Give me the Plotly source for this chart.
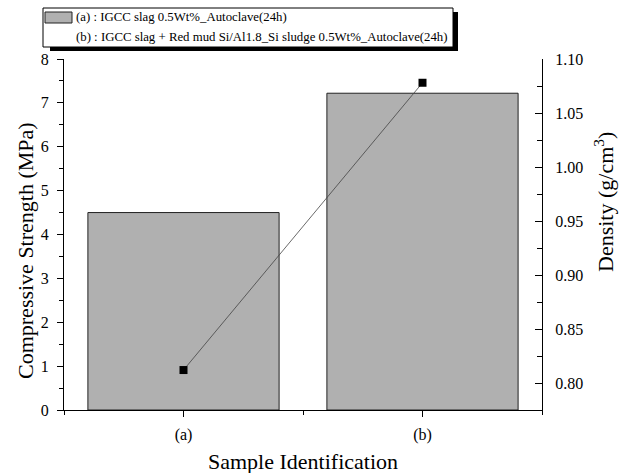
import plotly.graph_objects as go

categories = ["(a)", "(b)"]
x_pos = [0, 1]
strength = [4.5, 7.22]
density = [0.812, 1.078]
legend_labels = [
    "(a) : IGCC slag 0.5Wt%_Autoclave(24h)",
    "(b) : IGCC slag + Red mud Si/Al1.8_Si sludge 0.5Wt%_Autoclave(24h)",
]
left_ticks = [0, 1, 2, 3, 4, 5, 6, 7, 8]
right_ticks = [0.80, 0.85, 0.90, 0.95, 1.00, 1.05, 1.10]

FONT = "Times New Roman, Liberation Serif, serif"
W, H = 627, 473
L, R, T, B = 64, 85, 59, 63
pw, ph = W - L - R, H - T - B

def px(xp):
    return (xp - L) / pw

def py(yp):
    return (H - B - yp) / ph

fig = go.Figure()
fig.add_trace(go.Bar(
    x=x_pos, y=strength, width=0.8,
    marker=dict(color="#b0b0b0", line=dict(color="#222222", width=1)),
    showlegend=False, yaxis="y",
))
fig.add_trace(go.Scatter(
    x=x_pos, y=density, mode="lines+markers",
    line=dict(color="#444444", width=0.8),
    marker=dict(symbol="square", size=8, color="black"),
    showlegend=False, yaxis="y2",
))

shapes = [
    # legend shadow
    dict(type="rect", xref="paper", yref="paper",
         x0=px(50), x1=px(458), y0=py(51), y1=py(12),
         fillcolor="black", line=dict(width=0), layer="above"),
    # legend box
    dict(type="rect", xref="paper", yref="paper",
         x0=px(43), x1=px(453), y0=py(47), y1=py(8),
         fillcolor="white", line=dict(color="black", width=1), layer="above"),
    # swatch
    dict(type="rect", xref="paper", yref="paper",
         x0=px(45), x1=px(72), y0=py(23), y1=py(12),
         fillcolor="#b0b0b0", line=dict(color="#222222", width=1), layer="above"),
]

annotations = [
    dict(text=legend_labels[0], xref="paper", yref="paper", x=px(74), y=py(17),
         xanchor="left", yanchor="middle", showarrow=False,
         font=dict(family=FONT, size=12.8, color="black")),
    dict(text=legend_labels[1], xref="paper", yref="paper", x=px(74), y=py(37),
         xanchor="left", yanchor="middle", showarrow=False,
         font=dict(family=FONT, size=12.8, color="black")),
    dict(text="Compressive Strength (MPa)", xref="paper", yref="paper",
         x=px(25), y=py(251), textangle=-90, xanchor="center", yanchor="middle",
         showarrow=False, font=dict(family=FONT, size=22, color="black")),
    dict(text="Density (g/cm<sup>3</sup>)", xref="paper", yref="paper",
         x=px(604), y=py(202), textangle=-90, xanchor="center", yanchor="middle",
         showarrow=False, font=dict(family=FONT, size=22, color="black")),
    dict(text="Sample Identification", xref="paper", yref="paper",
         x=px(303), y=py(461), xanchor="center", yanchor="middle",
         showarrow=False, font=dict(family=FONT, size=22, color="black")),
]

fig.update_layout(
    width=W, height=H,
    margin=dict(l=L, r=R, t=T, b=B, pad=0),
    paper_bgcolor="white", plot_bgcolor="white",
    font=dict(family=FONT, size=16, color="black"),
    bargap=0.2,
    xaxis=dict(
        range=[-0.5, 1.5], tickvals=x_pos, ticktext=categories,
        showline=True, linecolor="black", linewidth=1, mirror=False,
        ticks="outside", ticklen=6, tickcolor="black",
        minor=dict(dtick=0.5, tick0=-0.5, ticks="outside", ticklen=4, tickcolor="black"),
        showgrid=False, zeroline=False, fixedrange=True, ticklabelstandoff=4,
    ),
    yaxis=dict(
        range=[0, 8], tickvals=left_ticks,
        showline=True, linecolor="black", linewidth=1,
        ticks="outside", ticklen=6, tickcolor="black",
        minor=dict(dtick=0.5, tick0=0, ticks="outside", ticklen=4, tickcolor="black"),
        showgrid=False, zeroline=False, ticklabelstandoff=5,
    ),
    yaxis2=dict(
        range=[0.775, 1.10], tickvals=right_ticks, tickformat=".2f",
        overlaying="y", side="right",
        showline=True, linecolor="black", linewidth=1,
        ticks="inside", ticklen=7, tickcolor="black",
        minor=dict(dtick=0.025, tick0=0.8, ticks="inside", ticklen=5, tickcolor="black"),
        showgrid=False, zeroline=False, ticklabelstandoff=9,
    ),
    shapes=shapes,
    annotations=annotations,
)

fig.write_html("out.html")
